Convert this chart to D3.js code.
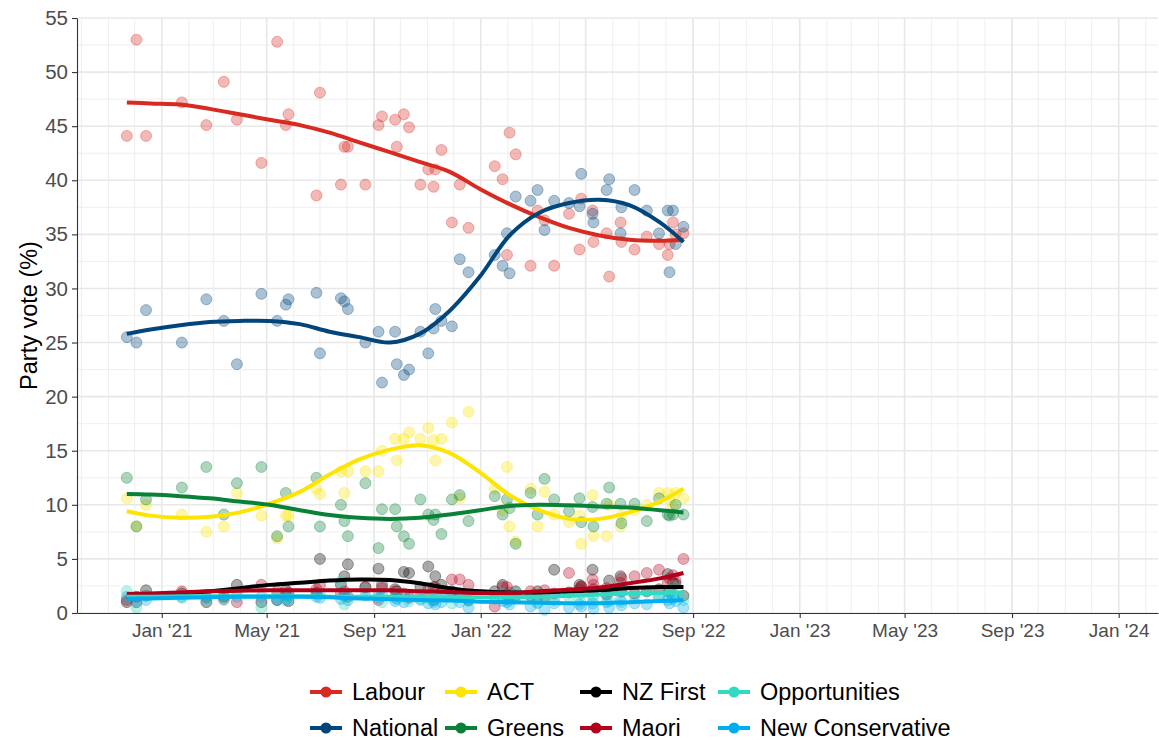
<!DOCTYPE html>
<html><head><meta charset="utf-8">
<script src="https://cdn.jsdelivr.net/npm/d3@7"></script>
<style>
body{margin:0;background:#fff}
svg{display:block}
text{font-family:"Liberation Sans", Arial, Helvetica, sans-serif}
</style>
</head><body>
<svg id="chart" width="1159" height="740"></svg>
<script>
// ---------- DATA ----------
const parties = ["Labour","National","ACT","Greens","NZ First","Maori","Opportunities","New Conservative"];
const partyColors = ["#D82A20","#00457C","#FDE401","#098137","#000000","#B2001A","#32DAC3","#00AEEF"];
const legendOrder = ["Labour","ACT","NZ First","Opportunities","National","Greens","Maori","New Conservative"];

const pollDates = ["2020-11-22","2020-12-03","2020-12-14","2021-01-24","2021-02-21","2021-03-13","2021-03-28","2021-04-25","2021-05-13","2021-05-23","2021-05-26","2021-06-27","2021-07-01","2021-07-25","2021-07-29","2021-08-02","2021-08-22","2021-09-06","2021-09-10","2021-09-25","2021-09-27","2021-10-05","2021-10-11","2021-10-24","2021-11-02","2021-11-08","2021-11-10","2021-11-17","2021-11-29","2021-12-08","2021-12-18","2022-01-17","2022-01-26","2022-01-31","2022-02-03","2022-02-10","2022-02-27","2022-03-07","2022-03-15","2022-03-26","2022-04-12","2022-04-24","2022-04-26","2022-05-09","2022-05-10","2022-05-25","2022-05-28","2022-06-10","2022-06-11","2022-06-26","2022-07-10","2022-07-24","2022-08-03","2022-08-05","2022-08-09","2022-08-12","2022-08-21"];

const labourVotes = [44.1,53.0,44.1,47.2,45.1,49.1,45.6,41.6,52.8,45.1,46.1,38.6,48.1,39.6,43.1,43.1,39.6,45.1,45.9,45.6,43.1,46.1,44.9,39.6,41.0,39.4,41.0,42.8,36.1,39.6,35.6,41.3,40.1,33.1,44.4,42.4,32.1,37.2,36.3,32.1,36.9,33.6,38.3,37.2,34.3,35.1,31.1,36.1,34.3,33.6,34.8,34.1,33.1,34.1,36.1,35.0,35.1];
const nationalVotes = [25.5,25.0,28.0,25.0,29.0,27.0,23.0,29.5,27.0,28.5,29.0,29.6,24.0,29.1,28.8,28.1,25.0,26.0,21.3,26.0,23.0,22.0,22.5,26.0,24.0,26.3,28.1,27.0,26.5,32.7,31.5,33.1,32.1,35.1,31.4,38.5,38.1,39.1,35.4,38.1,37.9,37.6,40.6,36.9,36.1,39.1,40.1,35.1,37.5,39.1,37.2,35.1,37.2,31.5,37.2,34.1,35.7];
const actVotes = [10.6,8.0,10.0,9.1,7.5,8.0,11.1,9.0,6.9,9.0,9.0,11.5,11.0,13.1,11.1,13.1,13.1,13.1,15.0,16.1,14.1,16.1,16.7,16.1,17.1,16.0,14.1,16.1,17.6,10.6,18.6,11.5,9.5,13.5,8.0,6.6,11.5,8.0,11.2,9.1,8.4,9.0,6.4,10.9,7.1,7.1,10.0,8.0,9.0,9.5,10.0,11.1,11.1,10.5,9.9,11.1,10.6];
const greensVotes = [12.5,8.0,10.5,11.6,13.5,9.1,12.0,13.5,7.1,11.1,8.0,12.5,8.0,10.0,8.5,7.1,12.0,6.0,9.6,9.6,8.0,7.1,6.4,10.5,9.1,8.6,9.1,7.3,10.5,10.9,8.5,10.8,9.1,10.5,9.7,6.4,11.1,9.1,12.4,10.5,9.4,10.6,8.4,9.8,8.0,10.1,11.6,10.1,8.3,10.1,8.5,10.6,9.1,9.0,9.1,10.0,9.1];
const nzFirstVotes = [1.0,1.5,2.1,1.8,1.0,1.5,2.6,1.0,1.2,2.1,1.1,1.9,5.0,2.6,3.4,4.5,2.4,4.1,2.6,2.2,2.0,3.8,3.7,2.4,4.3,2.4,3.4,2.6,2.0,1.6,1.2,2.0,2.6,1.7,1.5,2.0,1.6,2.0,1.5,4.0,1.9,2.6,2.4,4.0,2.2,1.7,3.0,3.4,2.0,1.8,2.0,2.2,3.6,2.0,2.8,2.7,1.6];
const maoriVotes = [1.2,1.0,1.6,2.0,1.5,1.3,1.0,2.6,2.0,1.7,1.9,2.2,2.6,1.8,2.0,1.5,2.4,1.2,2.3,2.0,1.6,1.8,1.4,1.6,2.2,1.2,2.4,2.0,3.1,3.1,2.6,0.6,2.4,2.4,1.9,1.6,2.0,1.5,2.1,1.8,3.7,2.2,2.5,3.1,2.6,2.3,2.0,2.8,3.2,3.4,3.7,4.0,2.8,3.2,3.5,3.0,5.0];
const topVotes = [2.0,0.5,1.6,1.4,1.2,1.2,1.8,0.5,1.6,1.4,1.3,1.7,1.8,2.9,0.8,1.5,2.2,1.7,1.0,1.4,1.9,1.5,1.1,1.2,1.4,1.0,1.6,1.7,0.9,1.5,1.1,1.6,1.8,1.3,1.2,1.9,1.4,1.0,1.5,1.2,1.5,1.1,1.8,1.6,1.3,1.7,1.1,2.4,1.0,1.5,2.0,1.5,2.0,1.8,2.5,1.6,1.2];
const newConVotes = [1.5,1.0,1.2,1.5,1.4,1.6,1.5,1.5,1.2,1.2,1.6,1.5,1.4,1.3,1.6,1.2,1.6,1.4,1.8,1.1,1.3,1.0,1.5,1.3,0.9,1.2,0.8,1.0,1.6,1.0,0.5,1.3,1.1,1.0,0.8,1.4,0.6,0.9,0.3,0.9,0.5,0.8,0.6,0.9,0.4,1.0,0.5,1.2,0.7,0.9,0.8,1.5,1.2,0.9,1.4,1.1,0.5];

// smoothed trend lines
const trendDates = ["2020-11-22","2020-12-19","2021-01-22","2021-02-25","2021-03-31","2021-05-04","2021-06-08","2021-07-12","2021-08-15","2021-09-19","2021-10-23","2021-11-26","2021-12-31","2022-02-03","2022-03-09","2022-04-12","2022-05-17","2022-06-20","2022-07-25","2022-08-21"];
const labourTrend   = [47.2,47.1,47.0,46.6,46.1,45.6,45.1,44.4,43.5,42.6,41.7,40.8,39.2,37.8,36.6,35.6,34.9,34.5,34.4,34.5];
const nationalTrend = [25.8,26.2,26.6,26.9,27.0,27.0,26.7,26.0,25.5,25.0,25.8,27.9,31.1,34.9,37.0,37.9,38.2,37.7,36.1,34.3];
const actTrend      = [9.4,9.0,8.8,8.9,9.3,10.1,11.2,12.8,14.2,15.1,15.5,14.8,13.0,10.9,9.5,8.7,8.7,9.3,10.3,11.5];
const greensTrend   = [11.0,10.95,10.8,10.6,10.3,10.0,9.5,9.05,8.8,8.7,8.8,9.1,9.5,9.9,10.0,9.95,9.85,9.75,9.5,9.3];
const nzFirstTrend  = [1.4,1.55,1.8,2.0,2.3,2.6,2.8,3.0,3.1,3.05,2.75,2.3,2.0,1.9,1.9,2.0,2.1,2.3,2.4,2.4];
const maoriTrend    = [1.75,1.8,1.9,2.0,2.05,2.1,2.1,2.1,2.1,2.1,2.0,1.95,1.85,1.85,2.0,2.15,2.35,2.75,3.2,3.7];
const topTrend      = [1.5,1.5,1.55,1.55,1.55,1.55,1.55,1.5,1.5,1.5,1.45,1.45,1.45,1.45,1.5,1.6,1.7,1.8,1.85,1.9];
const newConTrend   = [1.3,1.35,1.4,1.45,1.5,1.5,1.5,1.45,1.35,1.27,1.2,1.15,1.05,1.0,0.95,0.9,0.9,1.0,1.1,1.2];

const yTicks = [0,5,10,15,20,25,30,35,40,45,50,55];
const xTickDates = ["2021-01-01","2021-05-01","2021-09-01","2022-01-01","2022-05-01","2022-09-01","2023-01-01","2023-05-01","2023-09-01","2024-01-01"];
const xDomain = ["2020-09-26","2024-02-15"];
const yDomain = [0,55];
const yLabel = "Party vote (%)";

// ---------- BUILD ----------
const votes = [labourVotes,nationalVotes,actVotes,greensVotes,nzFirstVotes,maoriVotes,topVotes,newConVotes];
const trends = [labourTrend,nationalTrend,actTrend,greensTrend,nzFirstTrend,maoriTrend,topTrend,newConTrend];
const parse = d3.utcParse("%Y-%m-%d");
const color = d3.scaleOrdinal().domain(parties).range(partyColors);

const L=77, R=1158, T=18, B=613;
const x = d3.scaleUtc().domain(xDomain.map(parse)).range([L,R]);
const y = d3.scaleLinear().domain(yDomain).range([B,T]);

const svg = d3.select("#chart");

// grid
const grid = svg.append("g");
const minorX = d3.utcMonth.range(x.domain()[0], x.domain()[1]);
grid.selectAll(".mx").data(minorX).join("line")
  .attr("x1",d=>x(d)).attr("x2",d=>x(d)).attr("y1",T).attr("y2",B)
  .attr("stroke","#EDEDED").attr("stroke-width",0.9);
const minorY = d3.range(2.5,55,5);
grid.selectAll(".my").data(minorY).join("line")
  .attr("x1",L).attr("x2",R).attr("y1",d=>y(d)).attr("y2",d=>y(d))
  .attr("stroke","#EDEDED").attr("stroke-width",0.9);
grid.selectAll(".MX").data(xTickDates.map(parse)).join("line")
  .attr("x1",d=>x(d)).attr("x2",d=>x(d)).attr("y1",T).attr("y2",B)
  .attr("stroke","#E8E8E8").attr("stroke-width",1.6);
grid.selectAll(".MY").data(yTicks).join("line")
  .attr("x1",L).attr("x2",R).attr("y1",d=>y(d)).attr("y2",d=>y(d))
  .attr("stroke","#E8E8E8").attr("stroke-width",1.6);

// points
const pts = svg.append("g");
parties.forEach((p,i)=>{
  const data = pollDates.map((d,j)=>({date:parse(d), v:votes[i][j]})).filter(d=>d.v!=null);
  pts.append("g").selectAll("circle").data(data).join("circle")
    .attr("cx",d=>x(d.date)).attr("cy",d=>y(d.v)).attr("r",5.5)
    .attr("fill",color(p)).attr("fill-opacity",0.33)
    .attr("stroke",color(p)).attr("stroke-opacity",0.33).attr("stroke-width",1);
});

// trend lines
const line = d3.line().x(d=>x(d.date)).y(d=>y(d.v)).curve(d3.curveCatmullRom.alpha(0.5));
const lines = svg.append("g");
parties.forEach((p,i)=>{
  const data = trendDates.map((d,j)=>({date:parse(d), v:trends[i][j]}));
  lines.append("path").datum(data).attr("d",line)
    .attr("fill","none").attr("stroke",color(p)).attr("stroke-width",4)
    .attr("stroke-linecap","butt");
});

// axes
const yAxis = svg.append("g").attr("transform",`translate(${L},0)`)
  .call(d3.axisLeft(y).tickValues(yTicks).tickSize(5).tickSizeOuter(0).tickPadding(4));
const xAxis = svg.append("g").attr("transform",`translate(0,${B})`)
  .call(d3.axisBottom(x).tickValues(xTickDates.map(parse)).tickFormat(d3.utcFormat("%b '%y")).tickSize(5).tickSizeOuter(0).tickPadding(6));
[yAxis,xAxis].forEach(a=>{
  a.select(".domain").attr("stroke","#333").attr("stroke-width",1.1);
  a.selectAll(".tick line").attr("stroke","#333").attr("stroke-width",1.1);
  a.selectAll(".tick text").attr("fill","#4D4D4D").style("font-size","19px");
});
yAxis.selectAll(".tick text").style("font-size","20.5px");

svg.append("text").attr("transform",`translate(29,${(T+B)/2}) rotate(-90)`)
  .attr("text-anchor","middle").attr("dominant-baseline","central")
  .style("font-size","23.5px").attr("fill","#000").text(yLabel);

// legend
const legend = svg.append("g");
const colX = [310,445,580,718];
const rowY = [692,728];
legendOrder.forEach((p,k)=>{
  const c = k%4, r = Math.floor(k/4);
  const g = legend.append("g").attr("transform",`translate(${colX[c]},${rowY[r]})`);
  g.append("line").attr("x1",0).attr("x2",32).attr("y1",0).attr("y2",0)
    .attr("stroke",color(p)).attr("stroke-width",4);
  g.append("circle").attr("cx",16).attr("cy",0).attr("r",5.5).attr("fill",color(p));
  g.append("text").attr("x",42).attr("y",0).attr("dominant-baseline","central")
    .style("font-size","23.5px").attr("fill","#000").text(p);
});
</script>
</body></html>
